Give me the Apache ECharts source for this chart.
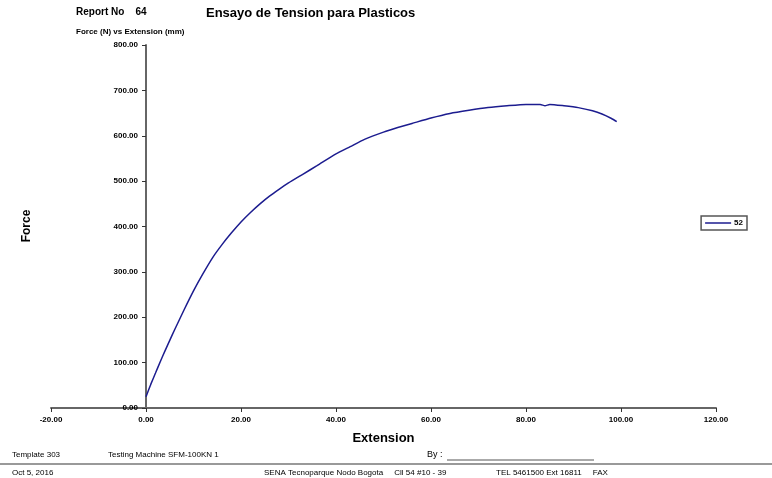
<!DOCTYPE html>
<html>
<head>
<meta charset="utf-8">
<script src="https://cdn.jsdelivr.net/npm/echarts@6/dist/echarts.min.js"></script>
<style>
  html, body { margin: 0; padding: 0; background: #fff; }
  #main { width: 772px; height: 478px; }
</style>
</head>
<body>
<div id="main"></div>
<script>
// valores
var extension = [0, 1, 2, 3, 4, 5, 6, 7, 8, 10, 12, 14, 16, 18, 20, 22, 24, 26, 28, 30,
    33, 36, 40, 43, 46, 50, 53, 56, 60, 64, 68, 72, 76, 80, 83, 84, 85, 88, 91, 94,
    96, 98, 99.1];
var force = [25, 52, 77, 102, 126, 149, 172, 194, 216, 258, 296, 331, 360, 386, 410, 431, 450, 467, 482, 496,
    515, 534, 560, 576, 592, 608, 618, 627, 639, 649, 656, 662, 666, 669, 669, 666, 669, 666, 662, 655,
    648, 638, 631];
var seriesName = '52';
var xTicks = { min: -20, max: 120, interval: 20 };
var yTicks = { min: 0, max: 800, interval: 100 };

var chartDom = document.getElementById('main');
var myChart = echarts.init(chartDom);
var option;

var lineData = [];
for (var i = 0; i < extension.length; i++) {
    lineData.push([extension[i], force[i]]);
}

var fnt = 'Liberation Sans, Arial, sans-serif';

option = {
    animation: false,
    textStyle: { fontFamily: fnt },
    grid: { left: 51, right: 56, top: 45, bottom: 70 },
    legend: {
        data: [seriesName],
        right: 25,
        top: 216,
        orient: 'vertical',
        icon: 'rect',
        itemWidth: 26,
        itemHeight: 1.5,
        itemGap: 0,
        padding: [3, 4, 3, 4],
        borderColor: '#555',
        borderWidth: 1.5,
        textStyle: { fontSize: 8, fontWeight: 'bold', color: '#000', padding: [0, 0, 0, -2] }
    },
    xAxis: {
        type: 'value',
        min: xTicks.min,
        max: xTicks.max,
        interval: xTicks.interval,
        name: 'Extension',
        nameLocation: 'middle',
        nameGap: 24,
        nameTextStyle: { fontSize: 13, fontWeight: 'bold', color: '#000' },
        splitLine: { show: false },
        axisLine: { onZero: true, lineStyle: { color: '#666', width: 2 } },
        axisTick: { length: 4, lineStyle: { color: '#333', width: 1 } },
        axisLabel: {
            fontSize: 8, fontWeight: 'bold', color: '#000', margin: 8,
            formatter: function (v) { return v.toFixed(2); }
        }
    },
    yAxis: {
        type: 'value',
        min: yTicks.min,
        max: yTicks.max,
        interval: yTicks.interval,
        splitLine: { show: false },
        axisLine: { onZero: true, lineStyle: { color: '#666', width: 2 } },
        axisTick: { length: 4, lineStyle: { color: '#333', width: 1 } },
        axisLabel: {
            fontSize: 8, fontWeight: 'bold', color: '#000', margin: -87,
            formatter: function (v) { return v.toFixed(2); }
        }
    },
    graphic: [
        { type: 'text', left: 76, top: 7, style: { text: 'Report No    64', font: 'bold 10px ' + fnt, fill: '#000' } },
        { type: 'text', left: 206, top: 7, style: { text: 'Ensayo de Tension para Plasticos', font: 'bold 13px ' + fnt, fill: '#000' } },
        { type: 'text', left: 76, top: 28, style: { text: 'Force (N) vs Extension (mm)', font: 'bold 8px ' + fnt, fill: '#000' } },
        { type: 'text', x: 27, y: 226, rotation: Math.PI / 2, style: { text: 'Force', font: 'bold 12px ' + fnt, fill: '#000', align: 'center', verticalAlign: 'middle' } },
        { type: 'text', left: 12, top: 451, style: { text: 'Template 303', font: '8px ' + fnt, fill: '#000' } },
        { type: 'text', left: 108, top: 451, style: { text: 'Testing Machine SFM-100KN 1', font: '8px ' + fnt, fill: '#000' } },
        { type: 'text', left: 427, top: 450, style: { text: 'By :', font: '9px ' + fnt, fill: '#000' } },
        { type: 'line', shape: { x1: 447, y1: 460, x2: 594, y2: 460 }, style: { stroke: '#555', lineWidth: 1 } },
        { type: 'line', shape: { x1: 0, y1: 464, x2: 772, y2: 464 }, style: { stroke: '#777', lineWidth: 1.5 } },
        { type: 'text', left: 12, top: 469, style: { text: 'Oct 5, 2016', font: '8px ' + fnt, fill: '#000' } },
        { type: 'text', left: 264, top: 469, style: { text: 'SENA Tecnoparque Nodo Bogota     Cll 54 #10 - 39', font: '8px ' + fnt, fill: '#000' } },
        { type: 'text', left: 496, top: 469, style: { text: 'TEL 5461500 Ext 16811     FAX', font: '8px ' + fnt, fill: '#000' } }
    ],
    series: [{
        name: seriesName,
        type: 'line',
        data: lineData,
        showSymbol: false,
        smooth: 0.2,
        color: '#1c1c8f',
        lineStyle: { width: 1.5, color: '#1c1c8f' }
    }]
};

option && myChart.setOption(option);
</script>
</body>
</html>
